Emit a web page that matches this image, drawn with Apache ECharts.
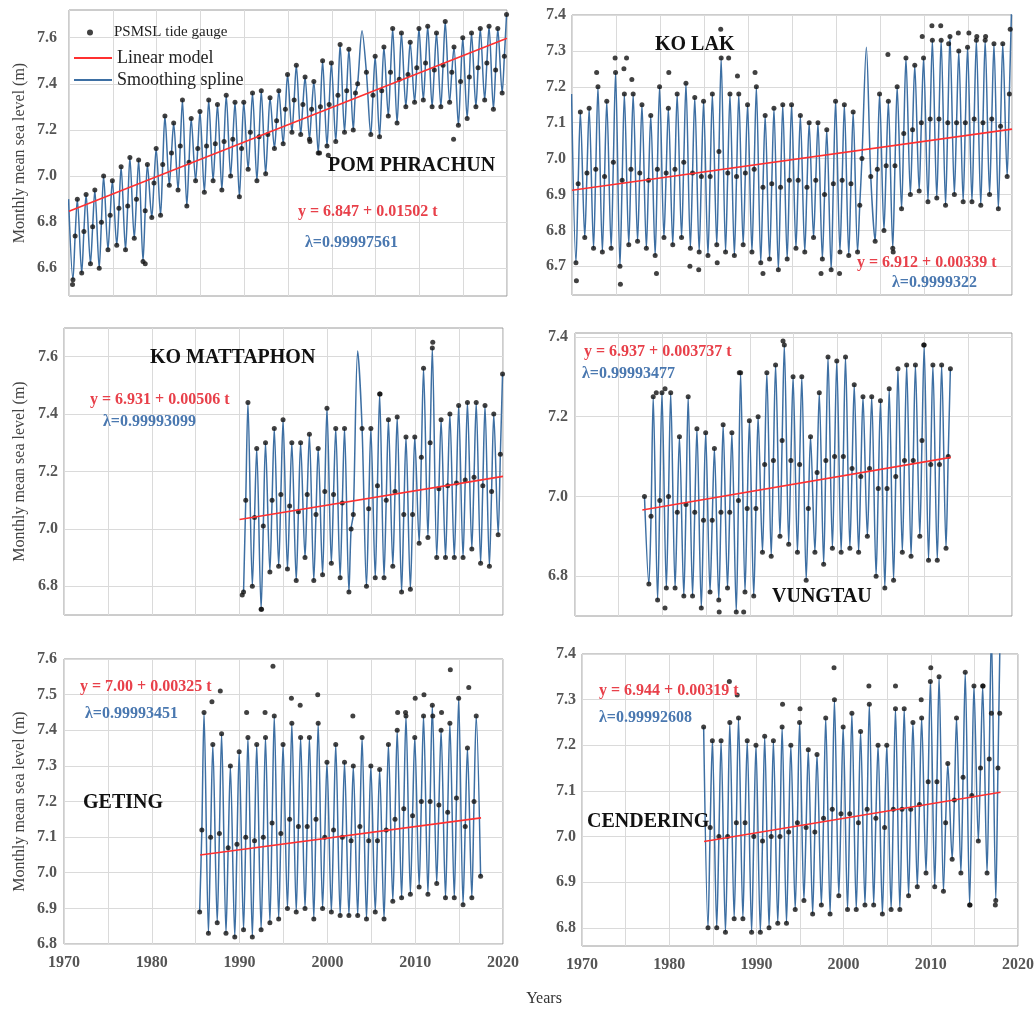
<!DOCTYPE html>
<html><head><meta charset="utf-8">
<script src="https://cdn.jsdelivr.net/npm/echarts@6/dist/echarts.min.js"></script>
<style>html,body{margin:0;padding:0;background:#fff}#c{width:1034px;height:1009px}</style>
</head><body><div id="c"></div>
<script>
// ---------- DATA (monthly mean sea level, m: annual trough, rising mid-level and peak) ----------
// POM PHRACHUN, years from 1969
const tlStart = 1969;
const tlLo = [null,6.55,6.58,6.62,6.60,6.68,6.70,6.68,6.73,6.63,6.82,
  6.83,6.96,6.94,6.87,6.98,6.93,6.98,6.94,7.00,6.91,
  7.03,6.98,7.01,7.12,7.14,7.19,7.18,7.16,7.10,7.13,
  7.15,7.19,7.20,7.63,7.18,7.17,7.26,7.23,7.30,7.32,
  7.33,7.30,7.30,7.32,7.22,7.25,7.30,7.33,7.29,7.36];
const tlMid = [null,6.74,6.76,6.78,6.80,6.83,6.86,6.87,6.90,6.85,6.97,
  7.05,7.10,7.13,7.06,7.12,7.13,7.14,7.15,7.16,7.12,
  7.19,7.17,7.18,7.24,7.29,7.33,7.31,7.29,7.30,7.31,
  7.35,7.37,7.36,null,7.35,7.37,7.45,7.42,7.44,7.47,
  7.49,7.46,7.48,7.45,7.41,7.43,7.47,7.49,7.46,7.52];
const tlHi = [6.90,6.90,6.92,6.94,7.00,6.98,7.04,7.08,7.07,7.05,7.12,
  7.26,7.23,7.33,7.25,7.28,7.33,7.31,7.35,7.32,7.32,
  7.36,7.37,7.34,7.37,7.44,7.48,7.43,7.41,7.50,7.49,
  7.57,7.55,7.40,7.45,7.52,7.56,7.64,7.62,7.58,7.64,
  7.65,7.62,7.67,7.56,7.60,7.62,7.64,7.65,7.64,7.70];
const tlGap = [2003];
const tlOut = [[1970.4,6.53],[1978.7,6.62],[1997.5,7.15],[1998.6,7.10],[1999.6,7.09],[2013.9,7.16]];
const tlLin = [[1970,6.847],[2020,7.598]];

// KO LAK
const trStart = 1969;
const trLo = [null,6.71,6.78,6.75,6.74,6.75,6.70,6.76,6.77,6.75,6.73,
  6.78,6.76,6.78,6.75,6.74,6.73,6.76,6.74,6.73,6.76,
  6.74,6.71,6.72,6.69,6.72,6.75,6.74,6.78,6.72,6.69,
  6.74,6.73,6.74,7.31,6.77,6.80,6.75,6.86,6.90,6.91,
  6.88,6.89,6.87,6.90,6.88,6.88,6.87,6.90,6.86,6.95];
const trMid = [null,6.93,6.96,6.97,6.95,6.99,6.94,6.97,6.96,6.94,6.97,
  6.96,6.97,6.99,6.96,6.95,6.95,7.02,6.96,6.95,6.96,
  6.97,6.92,6.93,6.92,6.94,6.94,6.92,6.94,6.90,6.93,
  6.94,6.93,6.87,null,6.97,6.98,6.98,7.07,7.08,7.10,
  7.11,7.11,7.10,7.10,7.10,7.11,7.10,7.11,7.09,7.18];
const trHi = [7.18,7.13,7.14,7.20,7.16,7.24,7.18,7.18,7.15,7.12,7.20,
  7.14,7.18,7.21,7.17,7.16,7.18,7.28,7.18,7.18,7.15,
  7.20,7.12,7.14,7.15,7.15,7.12,7.10,7.10,7.08,7.16,
  7.15,7.13,7.00,6.95,7.18,7.16,7.20,7.28,7.26,7.28,
  7.33,7.33,7.34,7.30,7.31,7.33,7.33,7.32,7.32,7.42];
const trGap = [2003];
const trOut = [[1970.5,6.66],[1972.8,7.24],[1974.9,7.28],[1975.5,6.65],[1975.9,7.25],[1976.2,7.28],[1976.8,7.22],
  [1979.6,6.68],[1981.0,7.24],[1983.4,6.70],[1984.4,6.69],[1986.5,6.71],[1986.9,7.36],[1987.8,7.28],[1988.8,7.23],
  [1990.8,7.24],[1991.7,6.68],[1998.3,6.68],[2000.4,6.68],[2005.9,7.29],[2006.5,6.74],[2009.8,7.34],[2010.9,7.37],
  [2011.9,7.37],[2012.8,7.32],[2013.9,7.35],[2015.1,7.35],[2016.0,7.34],[2017.0,7.34],[2019.8,7.36]];
const trLin = [[1970,6.912],[2020,7.082]];

// KO MATTAPHON
const mlStart = 1990;
const mlLo = [6.78,6.80,6.72,6.85,6.87,6.86,6.82,6.90,6.82,6.84,
  6.88,6.83,6.78,7.62,6.80,6.83,6.83,6.87,6.78,6.79,
  6.95,6.97,6.90,6.90,6.90,6.90,6.93,6.88,6.87,6.98];
const mlMid = [7.10,7.04,7.01,7.10,7.12,7.08,7.06,7.12,7.05,7.13,
  7.12,7.09,7.00,null,7.07,7.15,7.10,7.13,7.05,7.05,
  7.25,7.30,7.14,7.15,7.16,7.17,7.18,7.15,7.13,7.26];
const mlHi = [7.44,7.28,7.30,7.35,7.38,7.30,7.30,7.33,7.28,7.42,
  7.35,7.35,7.05,7.35,7.35,7.47,7.38,7.39,7.32,7.32,
  7.56,7.63,7.38,7.40,7.43,7.44,7.44,7.43,7.40,7.54];
const mlGap = [2003];
const mlOut = [[1990.3,6.77],[1992.5,6.72],[2006.0,7.47],[2012.0,7.65]];
const mlLin = [[1990,7.033],[2020,7.183]];

// VUNGTAU
const mrStart = 1977;
const mrLo = [null,6.78,6.74,6.77,6.77,6.75,6.75,6.72,6.76,6.74,6.77,6.71,6.76,6.75,6.86,6.85,6.90,6.88,6.86,
  6.79,6.86,6.83,6.87,6.86,6.87,6.86,6.90,6.80,6.77,6.79,6.86,6.85,6.90,6.84,6.84,6.87];
const mrMid = [null,6.95,6.99,7.00,6.96,6.98,6.96,6.94,6.94,6.96,6.96,6.99,6.97,6.97,7.08,7.09,7.14,7.09,7.08,
  6.97,7.06,7.09,7.10,7.10,7.07,7.05,7.07,7.02,7.02,7.05,7.09,7.09,7.14,7.08,7.08,7.10];
const mrHi = [7.00,7.25,7.26,7.26,7.15,7.25,7.17,7.16,7.12,7.18,7.16,7.31,7.19,7.20,7.31,7.33,7.38,7.30,7.30,
  7.15,7.26,7.35,7.34,7.35,7.28,7.25,7.25,7.24,7.27,7.32,7.33,7.33,7.38,7.33,7.33,7.32];
const mrGap = [];
const mrOut = [[1979.3,7.26],[1980.3,6.72],[1980.3,7.27],[1986.5,6.71],[1988.8,7.31],[1989.3,6.71],[1993.8,7.39],[2009.9,7.38]];
const mrLin = [[1977.7,6.966],[2013,7.098]];

// GETING
const blStart = 1985;
const blLo = [6.89,6.83,6.86,6.83,6.82,6.84,6.82,6.84,6.86,6.87,6.90,6.89,6.90,6.87,6.90,6.89,6.88,
  6.88,6.88,6.87,6.89,6.87,6.92,6.93,6.94,6.96,6.94,6.97,6.93,6.93,6.91,6.93,6.99];
const blMid = [7.12,7.10,7.11,7.07,7.08,7.10,7.09,7.10,7.14,7.11,7.15,7.13,7.13,7.15,7.10,7.12,7.10,
  7.09,7.13,7.09,7.09,7.12,7.15,7.18,7.16,7.20,7.20,7.19,7.17,7.21,7.13,7.20,null];
const blHi = [7.45,7.36,7.39,7.30,7.34,7.38,7.36,7.38,7.44,7.36,7.42,7.38,7.38,7.42,7.31,7.36,7.31,
  7.30,7.38,7.30,7.29,7.36,7.40,7.44,7.38,7.44,7.47,7.40,7.42,7.49,7.35,7.44,null];
const blGap = [];
const blOut = [[1986.85,7.48],[1987.8,7.51],[1990.8,7.45],[1992.9,7.45],[1993.8,7.58],[1995.9,7.49],[1996.9,7.47],
  [1998.9,7.50],[2002.9,7.44],[2008.0,7.45],[2008.9,7.45],[2010.0,7.49],[2011.0,7.50],[2012.0,7.44],[2013.0,7.45],
  [2014.0,7.57],[2016.1,7.52]];
const blLin = [[1985.5,7.050],[2017.5,7.154]];

// CENDERING
const brStart = 1983;
const brLo = [null,6.80,6.80,6.79,6.82,6.82,6.79,6.79,6.80,6.81,6.81,6.84,6.86,6.83,6.85,6.83,6.87,6.84,
  6.84,6.85,6.85,6.83,6.84,6.84,6.87,6.89,6.92,6.89,6.88,6.95,6.92,6.85,6.99,6.92,6.86];
const brMid = [null,7.02,7.00,7.00,7.03,7.03,7.00,6.99,7.00,7.00,7.01,7.03,7.02,7.01,7.04,7.06,7.05,7.05,
  7.03,7.06,7.04,7.02,7.06,7.06,7.06,7.07,7.12,7.12,7.03,7.08,7.13,7.09,7.15,7.17,7.15];
const brHi = [7.24,7.21,7.21,7.25,7.26,7.21,7.20,7.22,7.21,7.24,7.20,7.25,7.19,7.18,7.26,7.30,7.24,7.27,
  7.23,7.29,7.20,7.20,7.28,7.28,7.25,7.26,7.34,7.35,7.16,7.26,7.36,7.33,7.33,7.45,7.45];
const brGap = [];
const brOut = [[1986.9,7.34],[1987.8,7.31],[1993.0,7.29],[1995.0,7.28],[1998.9,7.37],[2002.9,7.33],[2005.95,7.33],
  [2008.9,7.30],[2010.0,7.37],[2014.5,6.85],[2016.0,7.33],[2016.95,7.27],[2017.4,6.85],[2017.9,7.27]];
const brLin = [[1984,6.989],[2018,7.097]];

// tick labels
const yearTicks = [1970,1980,1990,2000,2010,2020];
const tlTicks = [6.6,6.8,7.0,7.2,7.4,7.6];
const trTicks = [6.7,6.8,6.9,7.0,7.1,7.2,7.3,7.4];
const mlTicks = [6.8,7.0,7.2,7.4,7.6];
const mrTicks = [6.8,7.0,7.2,7.4];
const blTicks = [6.8,6.9,7.0,7.1,7.2,7.3,7.4,7.5,7.6];
const brTicks = [6.8,6.9,7.0,7.1,7.2,7.3,7.4];

const stations = ['POM PHRACHUN','KO LAK','KO MATTAPHON','VUNGTAU','GETING','CENDERING'];
const equations = ['y = 6.847 + 0.01502 t','y = 6.912 + 0.00339 t','y = 6.931 + 0.00506 t',
  'y = 6.937 + 0.003737 t','y = 7.00 + 0.00325 t','y = 6.944 + 0.00319 t'];
const lambdas = ['λ=0.99997561','λ=0.9999322','λ=0.99993099','λ=0.99993477','λ=0.99993451','λ=0.99992608'];

// ---------- LAYOUT ----------
const SERIF = '"Liberation Serif","Times New Roman",serif';
const panels = [
  {start:tlStart, lo:tlLo, mid:tlMid, hi:tlHi, gap:tlGap, out:tlOut, lin:tlLin, ticks:tlTicks,
   grid:{left:69,top:10,width:438,height:286}, ymin:6.48, ymax:7.72, name:true, nameGap:41, xl:false, lm:12,
   st:[328,166], eq:[298,212], la:[305,243]},
  {start:trStart, lo:trLo, mid:trMid, hi:trHi, gap:trGap, out:trOut, lin:trLin, ticks:trTicks,
   grid:{left:572,top:15,width:440,height:280}, ymin:6.62, ymax:7.4, name:false, xl:false, lm:6,
   st:[655,45], eq:[857,263], la:[892,283]},
  {start:mlStart, lo:mlLo, mid:mlMid, hi:mlHi, gap:mlGap, out:mlOut, lin:mlLin, ticks:mlTicks,
   grid:{left:64,top:328,width:439,height:287}, ymin:6.7, ymax:7.7, name:true, nameGap:36, xl:false, lm:6,
   st:[150,358], eq:[90,400], la:[103,422]},
  {start:mrStart, lo:mrLo, mid:mrMid, hi:mrHi, gap:mrGap, out:mrOut, lin:mrLin, ticks:mrTicks,
   grid:{left:575,top:333,width:437,height:283}, ymin:6.7, ymax:7.41, name:false, xl:false, lm:7,
   st:[772,597], eq:[584,352], la:[582,374]},
  {start:blStart, lo:blLo, mid:blMid, hi:blHi, gap:blGap, out:blOut, lin:blLin, ticks:blTicks,
   grid:{left:64,top:659,width:439,height:285}, ymin:6.8, ymax:7.6, name:true, nameGap:36, xl:true, lm:7,
   st:[83,803], eq:[80,687], la:[85,714]},
  {start:brStart, lo:brLo, mid:brMid, hi:brHi, gap:brGap, out:brOut, lin:brLin, ticks:brTicks,
   grid:{left:582,top:654,width:436,height:292}, ymin:6.76, ymax:7.4, name:false, xl:true, lm:6,
   st:[587,822], eq:[599,691], la:[599,718]}
];

const grids=[], xAxes=[], yAxes=[], series=[], graphics=[];
panels.forEach((p,i)=>{
  grids.push(Object.assign({show:true, borderColor:'#9a9a9a', borderWidth:1, containLabel:false, outerBoundsMode:'none'}, p.grid));
  xAxes.push({type:'value', gridIndex:i, min:1970, max:2020, interval:5,
    axisLine:{show:false}, axisTick:{show:false},
    splitLine:{show:true, lineStyle:{color:'#dadada', width:1}},
    axisLabel:{show:p.xl, customValues:yearTicks, margin:11, fontFamily:SERIF, fontSize:16, fontWeight:'bold', color:'#555',
      formatter:v=>String(v)}});
  yAxes.push({type:'value', gridIndex:i, min:p.ymin, max:p.ymax,
    name: p.name ? 'Monthly mean sea level (m)' : '', nameLocation:'middle', nameGap:p.nameGap||40,
    nameTextStyle:{fontFamily:SERIF, fontSize:16, color:'#444'},
    axisLine:{show:false}, axisTick:{show:false, customValues:p.ticks},
    splitLine:{show:true, lineStyle:{color:'#dadada', width:1}},
    axisLabel:{customValues:p.ticks, margin:p.lm, fontFamily:SERIF, fontSize:16, fontWeight:'bold', color:'#555',
      formatter:v=>v.toFixed(1)}});
  const spl=[], dots=[];
  const add=(x,v,obs)=>{ spl.push([x,v]); if(obs) dots.push([x,v]); };
  p.lo.forEach((v,k)=>{
    const yr=p.start+k, m=p.mid[k], h=p.hi[k];
    if(v!=null) add(yr+0.45,v,p.gap.indexOf(yr)<0);
    if(m!=null) add(yr+0.7,m,true);
    if(h!=null) add(yr+0.95,h,true);
  });
  p.out.forEach(o=>dots.push(o));
  series.push({name:'Smoothing spline', type:'line', xAxisIndex:i, yAxisIndex:i, data:spl, smooth:0.3,
    symbol:'none', clip:true, itemStyle:{color:'#3d6fa3'}, lineStyle:{color:'#3d6fa3', width:1.5}, z:2});
  series.push({name:'PSMSL tide gauge', type:'scatter', xAxisIndex:i, yAxisIndex:i, data:dots, symbolSize:5,
    clip:true, itemStyle:{color:'#111'}, z:3});
  series.push({name:'Linear model', type:'line', xAxisIndex:i, yAxisIndex:i, data:p.lin, symbol:'none',
    itemStyle:{color:'#ff3030'}, lineStyle:{color:'#ff3030', width:1.6}, z:4});
  graphics.push({type:'text', x:p.st[0], y:p.st[1], style:{text:stations[i], font:'bold 20px '+SERIF, fill:'#111', textVerticalAlign:'middle'}, z:10});
  graphics.push({type:'text', x:p.eq[0], y:p.eq[1], style:{text:equations[i], font:'bold 16px '+SERIF, fill:'#e8404a', textVerticalAlign:'middle'}, z:10});
  graphics.push({type:'text', x:p.la[0], y:p.la[1], style:{text:lambdas[i], font:'bold 16px '+SERIF, fill:'#4a78b0', textVerticalAlign:'middle'}, z:10});
});
graphics.push({type:'text', x:544, y:999, style:{text:'Years', font:'16px '+SERIF, fill:'#333', textAlign:'center', textVerticalAlign:'middle'}});

const chart = echarts.init(document.getElementById('c'), null, {renderer:'canvas'});
chart.setOption({
  animation:false,
  backgroundColor:'#fff',
  grid:grids, xAxis:xAxes, yAxis:yAxes, series:series, graphic:graphics,
  legend:[
    {data:[{name:'PSMSL tide gauge', icon:'circle'}], left:82, top:20, itemWidth:6, itemHeight:6, selectedMode:false,
     textStyle:{fontFamily:SERIF, fontSize:15, color:'#222', padding:[0,0,0,16]}},
    {data:[{name:'Linear model', icon:'rect'},{name:'Smoothing spline', icon:'rect'}], orient:'vertical',
     left:69, top:43, itemWidth:38, itemHeight:2, itemGap:2, selectedMode:false,
     textStyle:{fontFamily:SERIF, fontSize:18, lineHeight:20, color:'#222'}}
  ]
});
</script></body></html>
